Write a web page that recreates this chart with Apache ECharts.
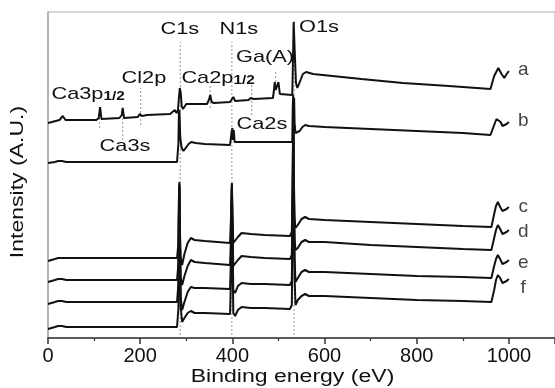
<!DOCTYPE html>
<html><head><meta charset="utf-8">
<script src="https://cdn.jsdelivr.net/npm/echarts@6/dist/echarts.min.js"></script>
<style>html,body{margin:0;padding:0;background:#fff}#c{width:555px;height:388px}</style>
</head><body><div id="c"></div>
<script>
// Binding energy (eV) vs intensity (arbitrary units, offsets)
const traceA = [[0,215],[25,218],[32,222],[38,218],[50,218],[105,218],[110,220],[113,231],[116,219],[155,220],[160,223],[162,230],[165,220],[195,221],[199,224],[201,226],[204,222],[215,223],[265,224],[270,226],[275,228],[279,225],[282,228],[284,240],[286,250],[288,245],[290,232],[293,229],[300,234],[345,234],[349,238],[352,243],[355,236],[360,235],[395,236],[399,238],[402,241],[406,237],[435,238],[440,240],[442,240],[446,239],[488,240],[490,247],[492,256],[494,248],[497,250],[500,256],[503,244],[506,243],[530,243],[532,290],[533,316],[535,290],[538,255],[541,250],[548,258],[553,264],[560,266],[575,264],[680,259],[770,255],[870,252],[960,249],[968,262],[977,270],[984,264],[990,260],[995,264],[1000,267]];
const traceB = [[0,175],[15,176],[22,177],[26,178],[30,177],[40,176],[280,176],[283,195],[284,225],[285,228],[287,200],[290,190],[294,187],[298,189],[305,194],[311,196],[320,195],[340,194],[395,193],[398,205],[400,210],[401,198],[403,208],[405,196],[420,196],[480,196],[530,196],[531,230],[532,243],[533,225],[534,240],[535,215],[537,205],[540,203],[546,207],[552,211],[558,213],[566,212],[600,211],[700,209],[800,207],[900,205],[960,203],[968,213],[973,219],[977,220],[982,216],[986,212],[990,211],[995,214],[1000,216]];
const traceC = [[0,77],[15,79],[22,80],[26,82],[30,80],[40,80],[280,80],[283,95],[284,140],[285,156],[286,110],[288,80],[291,73],[296,84],[303,95],[310,100],[318,98],[340,97],[395,95],[397,120],[399,155],[400,125],[402,95],[406,93],[412,101],[420,105],[440,104],[470,103],[525,102],[529,106],[531,160],[532,228],[533,170],[535,120],[537,110],[542,113],[550,119],[558,121],[566,119],[600,118],[700,116],[800,114],[900,112],[962,111],[968,124],[972,132],[976,136],[981,131],[986,127],[990,126],[995,129],[1000,131]];
const traceD = [[0,56],[15,58],[22,59],[26,61],[30,59],[40,58],[280,58],[283,75],[284,130],[285,154],[286,100],[288,60],[291,53],[296,62],[303,72],[310,78],[318,76],[340,75],[395,73],[397,100],[399,154],[400,115],[402,72],[406,70],[412,78],[420,82],[440,81],[470,80],[525,79],[529,83],[531,150],[532,228],[533,160],[535,100],[537,88],[542,90],[550,96],[558,98],[566,96],[600,96],[700,93],[800,91],[900,89],[962,88],[968,100],[972,108],[976,113],[981,109],[986,104],[990,103],[995,106],[1000,108]];
const traceE = [[0,34],[15,36],[22,37],[26,39],[30,37],[40,36],[280,36],[283,55],[284,120],[285,152],[286,95],[288,40],[291,28],[296,36],[303,46],[310,51],[318,50],[340,50],[395,49],[397,80],[399,152],[400,110],[402,48],[406,45],[412,52],[420,55],[440,54],[470,54],[525,53],[529,57],[531,140],[532,228],[533,150],[535,80],[537,56],[542,60],[550,66],[558,68],[566,66],[600,66],[700,64],[800,62],[900,61],[962,60],[968,72],[972,79],[976,83],[981,79],[986,74],[990,73],[995,76],[1000,78]];
const traceF = [[0,9],[15,11],[22,12],[26,14],[30,12],[40,11],[280,11],[283,30],[284,120],[285,150],[286,90],[288,30],[291,16],[296,20],[303,25],[310,27],[318,25],[340,25],[395,24],[397,60],[399,150],[400,100],[402,25],[406,22],[412,28],[420,31],[440,30],[470,30],[525,29],[529,33],[531,140],[532,228],[533,150],[535,60],[537,33],[542,38],[550,42],[558,44],[566,42],[600,42],[700,40],[800,38],[900,37],[962,36],[968,48],[972,58],[976,63],[981,60],[986,55],[990,54],[995,57],[1000,59]];

const traceNames = ['a','b','c','d','e','f'];
const traceNameX = [1031,1031,1031,1031,1031,1031];
const traceNameY = [268,217,131,106,75,50];

const peakNames = ['C1s','N1s','O1s','Ga(A)','Cl2p','Ca3p|1/2','Ca2p|1/2','Ca3s','Ca2s'];
const peakNameX = [286,414,588,471,208,87,369,167,464];
const peakNameY = [309,309,311,281,260,244,260,192,214];

const refLineX = [287,399,534,112,162,201,352,442,494];
const refLineLow = [3,3,3,210,198,213,230,223,248];
const refLineHigh = [296,296,318,228,230,250,253,255,266];

const xTitle = 'Binding energy (eV)';
const yTitle = 'Intensity (A.U.)';
const xMin = 0, xMax = 1100, xStep = 200;
const yMin = 0, yMax = 326;

const FONT = '"Liberation Sans", Arial, sans-serif';
const WIDE = 1.28;
const traces = [traceA, traceB, traceC, traceD, traceE, traceF];

const series = [];
refLineX.forEach((x, i) => {
  series.push({
    type: 'line', silent: true, symbol: 'none', z: 1,
    data: [[x, refLineLow[i]], [x, refLineHigh[i]]],
    lineStyle: { color: '#999', width: 1, type: [2, 2] }
  });
});
traces.forEach((t, i) => {
  series.push({
    type: 'line', name: traceNames[i], symbol: 'none', z: 3,
    data: t, lineStyle: { color: '#111', width: 2 }
  });
});
series.push({
  type: 'scatter', symbolSize: 0, z: 4, silent: true,
  data: traceNames.map((n, i) => ({ value: [traceNameX[i], traceNameY[i]], name: n })),
  label: { show: true, position: 'inside', formatter: p => p.name, color: '#111', fontSize: 19, fontFamily: FONT }
});

const chart = echarts.init(document.getElementById('c'), null, { renderer: 'canvas' });
const grid = { left: 48, right: 0, top: 12, bottom: 50 };
chart.setOption({
  animation: false,
  backgroundColor: '#fff',
  grid: Object.assign({ show: true, borderColor: '#aaa', borderWidth: 1 }, grid),
  xAxis: {
    type: 'value', min: xMin, max: xMax, interval: xStep,
    axisLine: { show: true, lineStyle: { color: '#333', width: 1.5 } },
    axisTick: { show: true, length: 6, lineStyle: { color: '#333', width: 1.5 } },
    minorTick: { show: true, splitNumber: 2, length: 3, lineStyle: { color: '#333', width: 1.2 } },
    axisLabel: { fontSize: 20, fontFamily: FONT, color: '#111', margin: 8, showMaxLabel: false, formatter: v => String(v) },
    splitLine: { show: false }
  },
  yAxis: {
    type: 'value', min: yMin, max: yMax,
    axisLine: { show: true, lineStyle: { color: '#aaa', width: 1.5 } },
    axisTick: { show: false }, axisLabel: { show: false }, splitLine: { show: false }
  },
  series: series
});

// Text annotations placed through the chart's own coordinate system
const graphics = [];
peakNames.forEach((n, i) => {
  const p = chart.convertToPixel({ gridIndex: 0 }, [peakNameX[i], peakNameY[i]]);
  const parts = n.split('|');
  graphics.push({
    type: 'text', x: p[0], y: p[1], scaleX: WIDE, z: 10, silent: true,
    style: {
      text: parts.length > 1 ? '{m|' + parts[0] + '}{s|' + parts[1] + '}' : '{m|' + parts[0] + '}',
      align: 'center', verticalAlign: 'middle',
      rich: {
        m: { fontSize: 17, fontFamily: FONT, fill: '#111' },
        s: { fontSize: 12, fontWeight: 'bold', fontFamily: FONT, fill: '#111', padding: [6, 0, 0, 0] }
      }
    }
  });
});
const W = chart.getWidth(), H = chart.getHeight();
const gx0 = grid.left, gx1 = W - grid.right, gy0 = grid.top, gy1 = H - grid.bottom;
graphics.push({
  type: 'text', x: (gx0 + gx1) / 2 - 9, y: gy1 + 39, scaleX: WIDE, silent: true,
  style: { text: xTitle, fontSize: 18, fontFamily: FONT, fill: '#111', align: 'center', verticalAlign: 'middle' }
});
graphics.push({
  type: 'text', x: gx0 - 30, y: (gy0 + gy1) / 2 + 7, rotation: Math.PI / 2, scaleX: WIDE, silent: true,
  style: { text: yTitle, fontSize: 18, fontFamily: FONT, fill: '#111', align: 'center', verticalAlign: 'middle' }
});
chart.setOption({ graphic: graphics });
</script></body></html>
